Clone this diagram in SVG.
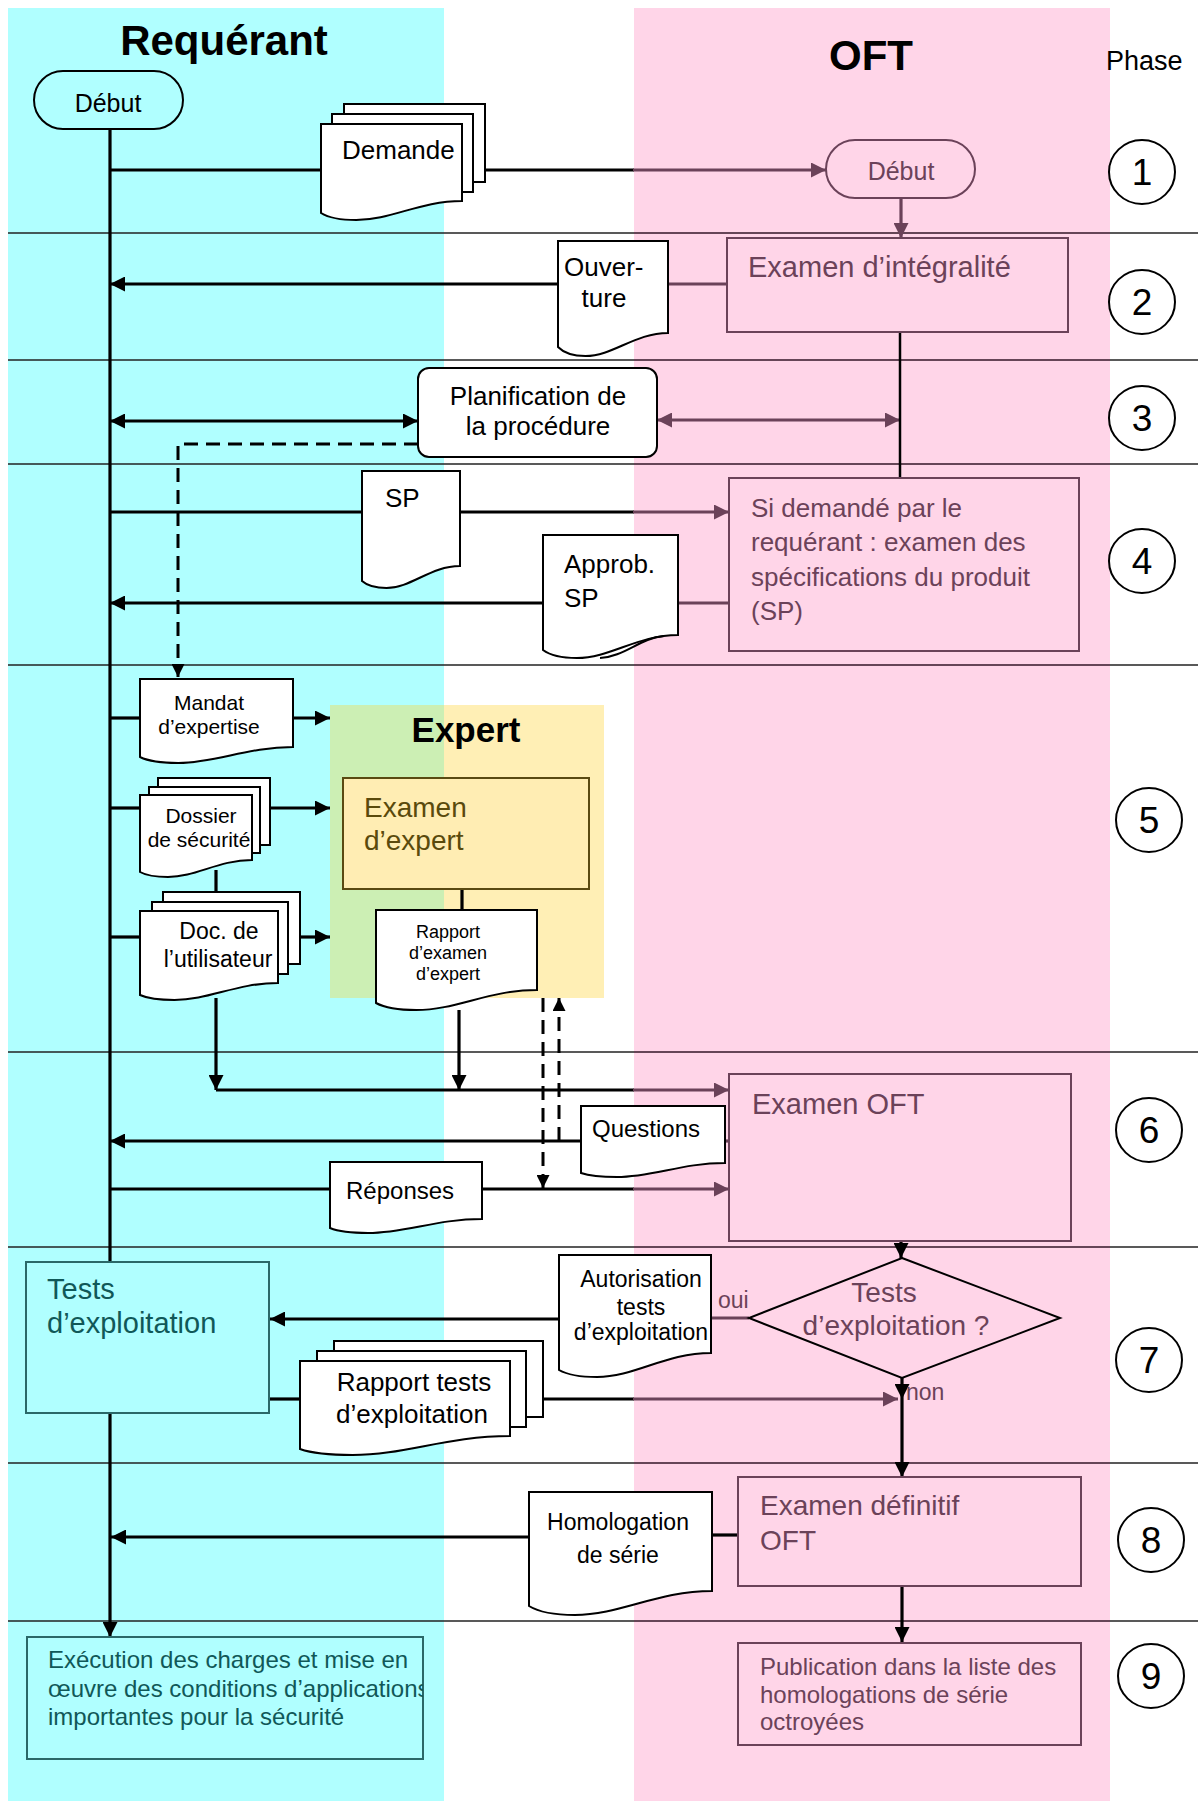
<svg xmlns="http://www.w3.org/2000/svg" width="1203" height="1801" viewBox="0 0 1203 1801">
<style>
text{font-family:"Liberation Sans",Arial,sans-serif;fill:#000;}
.doc{fill:#fff;stroke:#000;stroke-width:2;}
.sheet{fill:#fff;stroke:#000;stroke-width:2;}
.c{fill:none;stroke:#000;stroke-width:3.2;}
.cp{fill:none;stroke:#6B4259;stroke-width:3.2;}
.d{fill:none;stroke:#000;stroke-width:3;stroke-dasharray:14 8;}
.dv{stroke:#222;stroke-width:1.5;}
.dvp{stroke:#6B4259;stroke-width:1.5;}
.pbox{fill:none;stroke:#6B4259;stroke-width:2;}
.pt{fill:#6B4259;}
.tt{fill:#105858;}
.tbox{fill:#B0FFFF;stroke:#2A6868;stroke-width:2;}
.ph{fill:#fff;stroke:#000;stroke-width:2;}
.phn{font-size:37px;text-anchor:middle;}
.m{text-anchor:middle;}
</style>
<defs>
<marker id="ab" viewBox="0 0 10 10" refX="10" refY="5" markerWidth="15" markerHeight="15" markerUnits="userSpaceOnUse" orient="auto-start-reverse"><path d="M0,0 L10,5 L0,10 z" fill="#000"/></marker>
<marker id="ap" viewBox="0 0 10 10" refX="10" refY="5" markerWidth="15" markerHeight="15" markerUnits="userSpaceOnUse" orient="auto-start-reverse"><path d="M0,0 L10,5 L0,10 z" fill="#6B4259"/></marker>
<marker id="as" viewBox="0 0 10 10" refX="10" refY="5" markerWidth="13" markerHeight="13" markerUnits="userSpaceOnUse" orient="auto-start-reverse"><path d="M0,0 L10,5 L0,10 z" fill="#000"/></marker>
<clipPath id="exclip"><rect x="27" y="1637" width="396" height="122"/></clipPath>
</defs>

<g id="background">
<rect x="0" y="0" width="1203" height="1801" fill="#fff"/>
<rect x="8" y="8" width="436" height="1793" fill="#B0FFFF"/>
<rect x="634" y="8" width="476" height="1793" fill="#FFD5E8"/>
<rect x="330" y="705" width="114" height="293" fill="#CCEFB4"/>
<rect x="444" y="705" width="160" height="293" fill="#FFEFB5"/>
</g>

<g id="phase-dividers">
<line class="dv" x1="8" y1="233" x2="1198" y2="233"/>
<line class="dv" x1="8" y1="360" x2="1198" y2="360"/>
<line class="dv" x1="8" y1="464" x2="1198" y2="464"/>
<line class="dv" x1="8" y1="665" x2="1198" y2="665"/>
<line class="dv" x1="8" y1="1052" x2="1198" y2="1052"/>
<line class="dv" x1="8" y1="1247" x2="1198" y2="1247"/>
<line class="dv" x1="8" y1="1463" x2="1198" y2="1463"/>
<line class="dv" x1="8" y1="1621" x2="1198" y2="1621"/>
<line class="dvp" x1="634" y1="233" x2="1110" y2="233"/>
<line class="dvp" x1="634" y1="360" x2="1110" y2="360"/>
<line class="dvp" x1="634" y1="464" x2="1110" y2="464"/>
<line class="dvp" x1="634" y1="665" x2="1110" y2="665"/>
<line class="dvp" x1="634" y1="1052" x2="1110" y2="1052"/>
<line class="dvp" x1="634" y1="1247" x2="1110" y2="1247"/>
<line class="dvp" x1="634" y1="1463" x2="1110" y2="1463"/>
<line class="dvp" x1="634" y1="1621" x2="1110" y2="1621"/>
</g>

<g id="titles">
<text x="224" y="55" class="m" font-size="42" font-weight="bold">Requérant</text>
<text x="871" y="70" class="m" font-size="42" font-weight="bold">OFT</text>
<text x="1106" y="70" font-size="27">Phase</text>
<text x="466" y="742" class="m" font-size="35" font-weight="bold">Expert</text>
</g>

<g id="connectors">
<path class="c" d="M110,130 V1262"/>
<path class="c" d="M110,1413 V1637" marker-end="url(#ab)"/>
<path class="c" d="M110,170 H321"/>
<path class="c" d="M485,170 H634"/>
<path class="cp" d="M633,170 H826" marker-end="url(#ap)"/>
<path class="cp" d="M901,198 V238" marker-end="url(#ap)"/>
<path class="c" d="M558,284 H110" marker-end="url(#ab)"/>
<path class="cp" d="M668,284 H727"/>
<path class="c" d="M110,421 H418" marker-start="url(#ab)" marker-end="url(#ab)"/>
<path class="cp" d="M657,420 H900" marker-start="url(#ap)" marker-end="url(#ap)"/>
<path fill="none" stroke="#000" stroke-width="2.5" d="M900,332 V479"/>
<path class="d" d="M418,444 H178 V677" marker-end="url(#as)"/>
<path class="c" d="M110,512 H362"/>
<path class="c" d="M460,512 H634"/>
<path class="cp" d="M633,512 H729" marker-end="url(#ap)"/>
<path class="c" d="M543,603 H110" marker-end="url(#ab)"/>
<path class="cp" d="M678,603 H729"/>
<path class="c" d="M110,718 H140"/>
<path class="c" d="M293,718 H330" marker-end="url(#ab)"/>
<path class="c" d="M110,808 H140"/>
<path class="c" d="M270,808 H330" marker-end="url(#ab)"/>
<path class="c" d="M110,937 H140"/>
<path class="c" d="M300,937 H330" marker-end="url(#ab)"/>
<path class="c" d="M216,870 V892"/>
<path class="c" d="M216,998 V1090" marker-end="url(#ab)"/>
<path class="c" d="M462,889 V910"/>
<path class="c" d="M459,1010 V1090" marker-end="url(#ab)"/>
<path class="c" d="M216,1090 H634"/>
<path class="cp" d="M633,1090 H729" marker-end="url(#ap)"/>
<path class="d" d="M543,998 V1188" marker-end="url(#as)"/>
<path class="d" d="M559,1141 V998" marker-end="url(#as)"/>
<path class="c" d="M581,1141 H110" marker-end="url(#ab)"/>
<path class="cp" d="M725,1141 H730"/>
<path class="c" d="M110,1189 H330"/>
<path class="c" d="M482,1189 H634"/>
<path class="cp" d="M633,1189 H729" marker-end="url(#ap)"/>
<path class="c" d="M901,1241 V1258" marker-end="url(#ab)"/>
<path class="c" d="M559,1319 H270" marker-end="url(#ab)"/>
<path class="cp" d="M711,1318 H749"/>
<path class="c" d="M269,1399 H300"/>
<path class="c" d="M543,1399 H634"/>
<path class="cp" d="M633,1399 H898" marker-end="url(#ap)"/>
<path class="c" d="M902,1378 V1399" marker-end="url(#ab)"/>
<path class="c" d="M902,1399 V1477" marker-end="url(#ab)"/>
<path class="c" d="M529,1537 H111" marker-end="url(#ab)"/>
<path class="c" d="M712,1535 H738"/>
<path class="c" d="M902,1586 V1642" marker-end="url(#ab)"/>
</g>

<g id="debut-requerant">
<rect x="34" y="71" width="149" height="58" rx="29" fill="none" stroke="#000" stroke-width="2"/>
<text x="108" y="112" class="m" font-size="25">Début</text>
</g>

<g id="demande">
<rect class="sheet" x="344" y="104" width="141" height="78"/>
<rect class="sheet" x="332" y="114" width="141" height="78"/>
<path class="doc" d="M321,124 H462 V201 C419.7,201 391.5,220 356.3,220 C337.9,220 326.6,216.5 321,213 Z"/>
<text x="342" y="159" font-size="26">Demande</text>
</g>

<g id="debut-oft">
<rect x="826" y="140" width="149" height="58" rx="29" fill="none" stroke="#6B4259" stroke-width="2"/>
<text x="901" y="180" class="m pt" font-size="25">Début</text>
</g>

<g id="ouverture">
<path class="doc" d="M558,241 H668 V333 C635,333 613,356 585.5,356 C571.2,356 562.4,351.5 558,347 Z"/>
<text x="564" y="276" font-size="26">Ouver-</text>
<text x="604" y="307" class="m" font-size="26">ture</text>
</g>

<g id="examen-integralite">
<rect class="pbox" x="727" y="238" width="341" height="94"/>
<text x="748" y="277" class="pt" font-size="29">Examen d’intégralité</text>
</g>

<g id="planification">
<rect x="418" y="368" width="239" height="89" rx="11" fill="#fff" stroke="#000" stroke-width="2"/>
<text x="538" y="405" class="m" font-size="26">Planification de</text>
<text x="538" y="435" class="m" font-size="26">la procédure</text>
</g>

<g id="sp">
<path class="doc" d="M362,471 H460 V566 C430.6,566 411,588 386.5,588 C373.8,588 366,584.5 362,581 Z"/>
<text x="385" y="507" font-size="26">SP</text>
</g>

<g id="examen-sp">
<rect class="pbox" x="729" y="478" width="350" height="173"/>
<text x="751" y="517" class="pt" font-size="26">Si demandé par le</text>
<text x="751" y="551" class="pt" font-size="26">requérant : examen des</text>
<text x="751" y="586" class="pt" font-size="26">spécifications du produit</text>
<text x="751" y="620" class="pt" font-size="26">(SP)</text>
</g>

<g id="approb-sp">
<path class="doc" d="M543,535 H678 V635 C637.5,635 610.5,658 576.75,658 C559.2,658 548.4,654 543,650 Z"/>
<path fill="none" stroke="#000" stroke-width="2" d="M664,636 C640,638 624,657 600,658"/>
<text x="564" y="573" font-size="26">Approb.</text>
<text x="564" y="607" font-size="26">SP</text>
</g>

<g id="mandat">
<path class="doc" d="M140,679 H293 V747 C247.1,747 216.5,763 178.25,763 C158.4,763 146.1,760 140,757 Z"/>
<text x="209" y="710" class="m" font-size="21">Mandat</text>
<text x="209" y="734" class="m" font-size="21">d’expertise</text>
</g>

<g id="dossier">
<rect class="sheet" x="158" y="778" width="112" height="67"/>
<rect class="sheet" x="149" y="787" width="111" height="66"/>
<path class="doc" d="M140,795 H252 V860 C218.4,860 196,877 168,877 C153.4,877 144.5,874.5 140,872 Z"/>
<text x="201" y="823" class="m" font-size="21">Dossier</text>
<text x="199" y="847" class="m" font-size="21">de sécurité</text>
</g>

<g id="doc-utilisateur">
<rect class="sheet" x="163" y="892" width="137" height="72"/>
<rect class="sheet" x="152" y="902" width="136" height="72"/>
<path class="doc" d="M140,911 H278 V983 C236.6,983 209,1000 174.5,1000 C156.6,1000 145.5,997.5 140,995 Z"/>
<text x="219" y="939" class="m" font-size="23">Doc. de</text>
<text x="218" y="967" class="m" font-size="23">l’utilisateur</text>
</g>

<g id="examen-expert">
<rect x="343" y="778" width="246" height="111" fill="#FFEDB3" stroke="#5A4A12" stroke-width="2"/>
<text x="364" y="817" font-size="28" style="fill:#5A4A0C">Examen</text>
<text x="364" y="850" font-size="28" style="fill:#5A4A0C">d’expert</text>
</g>

<g id="rapport-expert">
<path class="doc" d="M376,910 H537 V990 C488.7,990 456.5,1010 416.25,1010 C395.3,1010 382.4,1006.5 376,1003 Z"/>
<text x="448" y="938" class="m" font-size="18">Rapport</text>
<text x="448" y="959" class="m" font-size="18">d’examen</text>
<text x="448" y="980" class="m" font-size="18">d’expert</text>
</g>

<g id="examen-oft">
<rect class="pbox" x="729" y="1074" width="342" height="167"/>
<text x="752" y="1114" class="pt" font-size="29">Examen OFT</text>
</g>

<g id="questions">
<path class="doc" d="M581,1106 H725 V1163 C681.8,1163 653,1177 617,1177 C598.3,1177 586.8,1175 581,1173 Z"/>
<text x="592" y="1137" font-size="24">Questions</text>
</g>

<g id="reponses">
<path class="doc" d="M330,1162 H482 V1219 C436.4,1219 406,1233 368,1233 C348.2,1233 336.1,1230.5 330,1228 Z"/>
<text x="346" y="1199" font-size="24">Réponses</text>
</g>

<g id="tests-exploitation">
<rect class="tbox" x="26" y="1262" width="243" height="151"/>
<text x="47" y="1299" class="tt" font-size="29">Tests</text>
<text x="47" y="1333" class="tt" font-size="29">d’exploitation</text>
</g>

<g id="autorisation">
<path class="doc" d="M559,1255 H711 V1353 C665.4,1353 635,1377 597,1377 C577.2,1377 565.1,1373.5 559,1370 Z"/>
<text x="641" y="1287" class="m" font-size="23">Autorisation</text>
<text x="641" y="1315" class="m" font-size="23">tests</text>
<text x="641" y="1340" class="m" font-size="23">d’exploitation</text>
</g>

<g id="decision">
<path d="M902,1258 L1060,1318 L902,1378 L749,1318 Z" fill="#FFD5E8" stroke="#000" stroke-width="2"/>
<text x="884" y="1302" class="m pt" font-size="28">Tests</text>
<text x="896" y="1335" class="m pt" font-size="28">d’exploitation ?</text>
<text x="718" y="1308" class="pt" font-size="23">oui</text>
<text x="906" y="1400" class="pt" font-size="23">non</text>
</g>

<g id="rapport-tests">
<rect class="sheet" x="334" y="1341" width="209" height="76"/>
<rect class="sheet" x="317" y="1351" width="209" height="76"/>
<path class="doc" d="M300,1361 H510 V1436 C447,1436 405,1455 352.5,1455 C325.2,1455 308.4,1452 300,1449 Z"/>
<text x="414" y="1391" class="m" font-size="26">Rapport tests</text>
<text x="412" y="1423" class="m" font-size="26">d’exploitation</text>
</g>

<g id="homologation">
<path class="doc" d="M529,1492 H712 V1591 C657.1,1591 620.5,1615 574.75,1615 C551,1615 536.3,1610.5 529,1606 Z"/>
<text x="618" y="1530" class="m" font-size="23">Homologation</text>
<text x="618" y="1563" class="m" font-size="23">de série</text>
</g>

<g id="examen-definitif">
<rect class="pbox" x="738" y="1477" width="343" height="109"/>
<text x="760" y="1515" class="pt" font-size="28">Examen définitif</text>
<text x="760" y="1550" class="pt" font-size="28">OFT</text>
</g>

<g id="execution">
<rect class="tbox" x="27" y="1637" width="396" height="122"/>
<g clip-path="url(#exclip)">
<text x="48" y="1668" class="tt" font-size="24">Exécution des charges et mise en</text>
<text x="48" y="1697" class="tt" font-size="24">œuvre des conditions d’applications</text>
<text x="48" y="1725" class="tt" font-size="24">importantes pour la sécurité</text>
</g>
</g>

<g id="publication">
<rect class="pbox" x="738" y="1643" width="343" height="102"/>
<text x="760" y="1675" class="pt" font-size="24">Publication dans la liste des</text>
<text x="760" y="1703" class="pt" font-size="24">homologations de série</text>
<text x="760" y="1730" class="pt" font-size="24">octroyées</text>
</g>

<g id="phases">
<ellipse class="ph" cx="1142" cy="172" rx="33" ry="32"/><text class="phn" x="1142" y="185">1</text>
<ellipse class="ph" cx="1142" cy="302" rx="33" ry="32"/><text class="phn" x="1142" y="315">2</text>
<ellipse class="ph" cx="1142" cy="418" rx="33" ry="32"/><text class="phn" x="1142" y="431">3</text>
<ellipse class="ph" cx="1142" cy="561" rx="33" ry="32"/><text class="phn" x="1142" y="574">4</text>
<ellipse class="ph" cx="1149" cy="820" rx="33" ry="32"/><text class="phn" x="1149" y="833">5</text>
<ellipse class="ph" cx="1149" cy="1130" rx="33" ry="32"/><text class="phn" x="1149" y="1143">6</text>
<ellipse class="ph" cx="1149" cy="1360" rx="33" ry="32"/><text class="phn" x="1149" y="1373">7</text>
<ellipse class="ph" cx="1151" cy="1540" rx="33" ry="32"/><text class="phn" x="1151" y="1553">8</text>
<ellipse class="ph" cx="1151" cy="1676" rx="33" ry="32"/><text class="phn" x="1151" y="1689">9</text>
</g>
</svg>
